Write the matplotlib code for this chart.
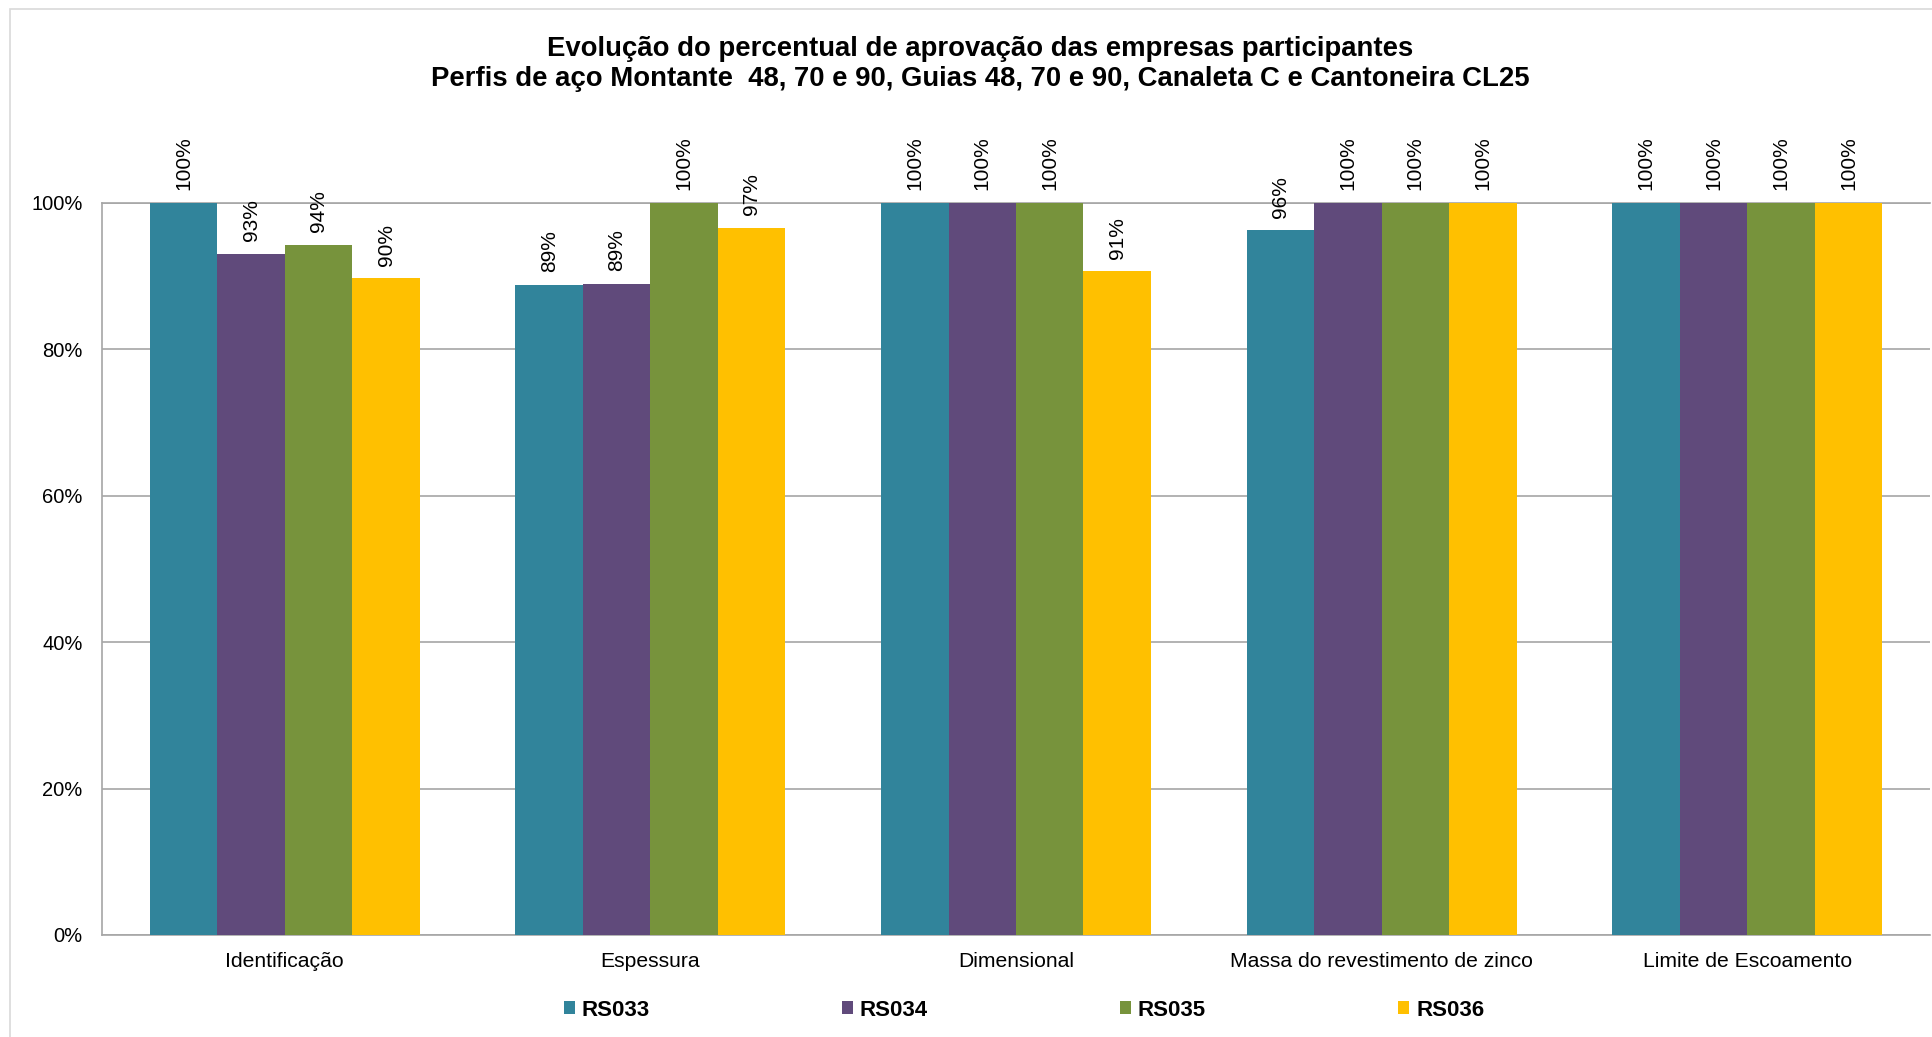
import matplotlib
matplotlib.use('Agg')
import numpy as np
import matplotlib.pyplot as plt
from matplotlib.patches import Patch, Rectangle

plt.rcParams['font.family'] = ['Liberation Sans', 'DejaVu Sans']

# data
categories = ['Identificação', 'Espessura', 'Dimensional',
              'Massa do revestimento de zinco', 'Limite de Escoamento']
series = ['RS033', 'RS034', 'RS035', 'RS036']
rs033 = [1.00, 0.888, 1.00, 0.963, 1.00]
rs034 = [0.931, 0.890, 1.00, 1.00, 1.00]
rs035 = [0.943, 1.00, 1.00, 1.00, 1.00]
rs036 = [0.897, 0.966, 0.907, 1.00, 1.00]
colors = ['#31849B', '#604A7B', '#77933C', '#FFC000']
title = ('Evolução do percentual de aprovação das empresas participantes\n'
         'Perfis de aço Montante  48, 70 e 90, Guias 48, 70 e 90, Canaleta C e Cantoneira CL25')

W, H = 1932, 1037
fig = plt.figure(figsize=(W / 100, H / 100), dpi=100)
ax = fig.add_axes([102 / W, 1 - 935 / H, (1930 - 102) / W, (935 - 203) / H])

# outer chart border
fig.patches.append(Rectangle((10 / W, -0.1), 1.2, 1 - 9 / H + 0.1, transform=fig.transFigure,
                             fill=False, edgecolor='#d9d9d9', linewidth=1.2))

x = np.arange(len(categories))
w = 0.1846
for i, vals in enumerate([rs033, rs034, rs035, rs036]):
    bars = ax.bar(x + (i - 1.5) * w, vals, w, color=colors[i], label=series[i], zorder=3)
    for b, v in zip(bars, vals):
        ax.annotate('{:.0f}%'.format(v * 100), (b.get_x() + b.get_width() / 2, v),
                    xytext=(0, 9), textcoords='offset points', rotation=90,
                    ha='center', va='bottom', fontsize=15, annotation_clip=False)

ax.set_xlim(-0.5, 4.5)
ax.set_ylim(0, 1.0)
ax.set_yticks([0, 0.2, 0.4, 0.6, 0.8, 1.0])
ax.set_yticklabels(['0%', '20%', '40%', '60%', '80%', '100%'])
ax.set_xticks(x)
ax.set_xticklabels(categories, fontsize=15.2)
ax.tick_params(axis='y', length=0, labelsize=14.5, pad=14)
ax.tick_params(axis='x', length=0, pad=12)
ax.yaxis.grid(True, color='#a6a6a6', linewidth=1.2, zorder=0)
ax.set_axisbelow(True)
ax.spines['right'].set_visible(False)
for s in ['left', 'bottom', 'top']:
    ax.spines[s].set_color('#a6a6a6')
    ax.spines[s].set_linewidth(1.2)

fig.text(980 / W, 1 - 64 / H, title, ha='center', va='center', fontsize=19.8,
         fontweight='bold', linespacing=1.2)

handles = [Patch(facecolor=c) for c in colors]
leg = fig.legend(handles, series, loc='center', bbox_to_anchor=(1024 / W, 1 - 1010 / H),
                 ncol=4, frameon=False, handlelength=0.5, handleheight=0.55,
                 handletextpad=0.3, columnspacing=8.65,
                 prop={'weight': 'bold', 'size': 16})

fig.savefig('out.png', dpi=100)
